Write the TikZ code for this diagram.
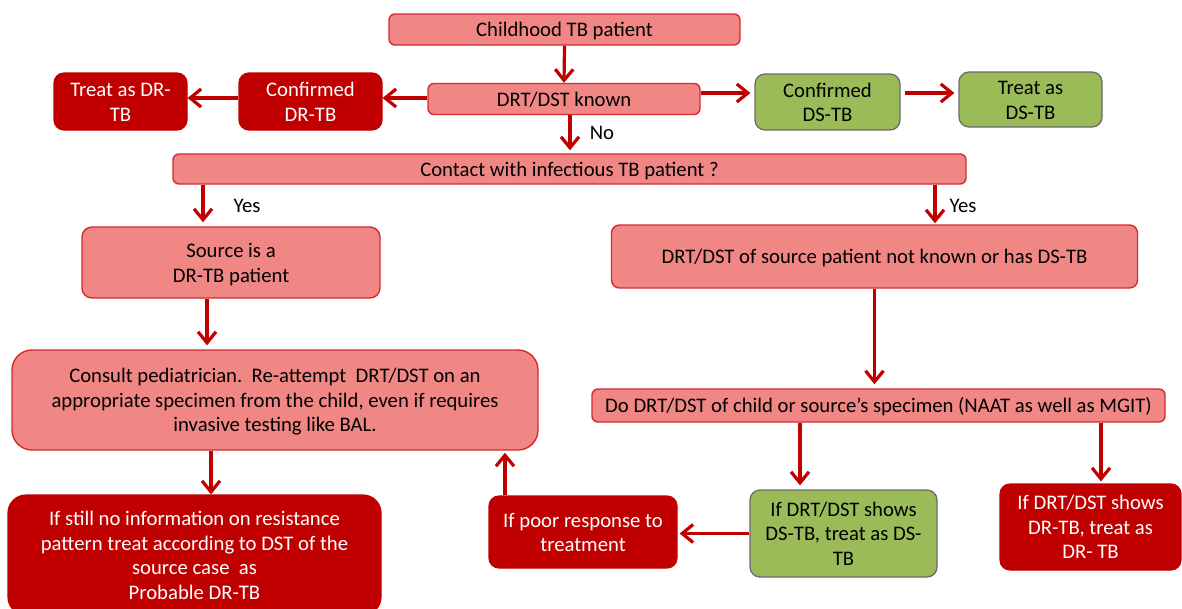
\documentclass[tikz,border=0pt]{standalone}
\usepackage{fontspec}
\setmainfont{Carlito}
\usetikzlibrary{arrows.meta}
\definecolor{pinkfill}{HTML}{F08785}
\definecolor{pinkline}{HTML}{D42A30}
\definecolor{darkred}{HTML}{C00000}
\definecolor{greenfill}{HTML}{9BBB59}
\definecolor{greenline}{HTML}{6A6A6A}
% box text with fixed first-line height and last-line depth
\newcommand{\tx}[1]{\rule{0pt}{20.4pt}#1\rule[-5.5pt]{0pt}{0pt}}
\tikzset{
  box/.style={draw, rectangle, align=center, inner sep=2pt,
    font=\fontsize{20.7}{24.5}\selectfont},
  pinkbox/.style={box, fill=pinkfill, draw=pinkline, line width=1.4pt,
    rounded corners=6pt, text=black},
  redbox/.style={box, fill=darkred, draw=darkred, line width=1.2pt,
    rounded corners=10pt, text=white},
  greenbox/.style={box, fill=greenfill, draw=greenline, line width=1.3pt,
    rounded corners=10pt, text=black},
  arr/.style={draw=darkred, line width=3.2pt,
    -{Straight Barb[length=11pt, width=18pt, line width=3.2pt]}},
  lbl/.style={font=\fontsize{20.7}{24}\selectfont, text=black, inner sep=0pt},
}
\begin{document}
\begin{tikzpicture}[x=1pt, y=-1pt]
\useasboundingbox (0,0) rectangle (1182,608);

% top row
\node[pinkbox, minimum width=351pt, minimum height=31pt] (child) at (564.5,29.5) {\tx{Childhood TB patient}};
\node[pinkbox, minimum width=272pt, minimum height=31pt] (known) at (564,99) {\tx{DRT/DST known}};
\node[redbox, minimum width=143pt, minimum height=57pt] (cdr) at (310.5,101.5) {\tx{Confirmed\\DR-TB}};
\node[redbox, minimum width=133pt, minimum height=57pt] (tdr) at (120.5,101.5) {\tx{Treat as DR-\\TB}};
\node[greenbox, minimum width=145pt, minimum height=56pt] (cds) at (827.5,102) {\tx{Confirmed\\DS-TB}};
\node[greenbox, minimum width=143pt, minimum height=55pt] (tds) at (1030.5,99.5) {\tx{Treat as\\DS-TB}};

% contact question
\node[pinkbox, minimum width=793pt, minimum height=30pt] (contact) at (569.5,169) {\tx{Contact with infectious TB patient ?}};

% source branches
\node[pinkbox, minimum width=298pt, minimum height=71pt, rounded corners=10pt] (source) at (231,262.5) {\tx{Source is a\\DR-TB patient}};
\node[pinkbox, minimum width=526pt, minimum height=63pt, rounded corners=8pt] (srcds) at (874.5,256.5) {\tx{DRT/DST of source patient not known or has DS-TB}};

% middle row
\node[pinkbox, minimum width=526pt, minimum height=100pt, rounded corners=20pt] (consult) at (275,400)
  {\tx{Consult pediatrician.\ \ Re-attempt\ \ DRT/DST on an\\appropriate specimen from the child, even if requires\\invasive testing like BAL.}};
\node[pinkbox, minimum width=573pt, minimum height=33pt] (dodst) at (878.5,405.5)
  {\tx{Do DRT/DST of child or source’s specimen (NAAT as well as MGIT)}};

% bottom row
\node[redbox, minimum width=373pt, minimum height=120pt, rounded corners=18pt] (still) at (194.5,555)
  {\tx{If still no information on resistance\\pattern treat according to DST of the\\source case\ \ as\\Probable DR-TB}};
\node[redbox, minimum width=188pt, minimum height=72pt] (poor) at (583,532) {\tx{If poor response to\\treatment}};
\node[greenbox, minimum width=187pt, minimum height=87pt] (dsg) at (843.5,533.5) {\tx{If DRT/DST shows\\DS-TB, treat as DS-\\TB}};
\node[redbox, minimum width=181pt, minimum height=86pt] (drr) at (1090.5,527) {\tx{If DRT/DST shows\\DR-TB, treat as\\DR- TB}};

% branch labels
\node[lbl] (no) at (602,133) {No};
\node[lbl] (yesl) at (247,206) {Yes};
\node[lbl] (yesr) at (963,206) {Yes};

% columns of the vertical connectors
\coordinate (c1) at (570,0);
\coordinate (c2) at (203,0);
\coordinate (c3) at (935,0);
\coordinate (c4) at (207,0);
\coordinate (c5) at (211,0);
\coordinate (c6) at (800,0);
\coordinate (c7) at (1101,0);
\coordinate (c8) at (505,0);

% connectors
\draw[arr] (child.south) -- (known.north);
\draw[arr] ([yshift=1pt]known.west) -- ([yshift=1pt]known.west -| cdr.east);
\draw[arr] ([yshift=3.5pt]cdr.west) -- ([yshift=3.5pt]cdr.west -| tdr.east);
\draw[arr, shorten >=4pt] ([yshift=6pt]known.east) -- ([yshift=6pt]known.east -| cds.west);
\draw[arr, shorten <=4pt, shorten >=4pt] ([yshift=9pt]cds.east) -- ([yshift=9pt]cds.east -| tds.west);
\draw[arr, shorten >=3pt] (known.south -| c1) -- (contact.north -| c1);
\draw[arr, shorten >=4pt] (contact.south -| c2) -- (source.north -| c2);
\draw[arr, shorten >=1pt] (contact.south -| c3) -- (srcds.north -| c3);
\draw[arr, shorten >=4pt] (source.south -| c4) -- (consult.north -| c4);
\draw[arr, shorten >=4pt] (srcds.south) -- (srcds.south |- dodst.north);
\draw[arr] (consult.south -| c5) -- (still.north -| c5);
\draw[arr, shorten >=4pt] (dodst.south -| c6) -- (dsg.north -| c6);
\draw[arr, shorten >=2pt] (dodst.south -| c7) -- (drr.north -| c7);
\draw[arr, shorten >=2pt] (dsg.west) -- (dsg.west -| poor.east);
\draw[arr, shorten >=2pt] (poor.north -| c8) -- (consult.south -| c8);
\end{tikzpicture}
\end{document}
